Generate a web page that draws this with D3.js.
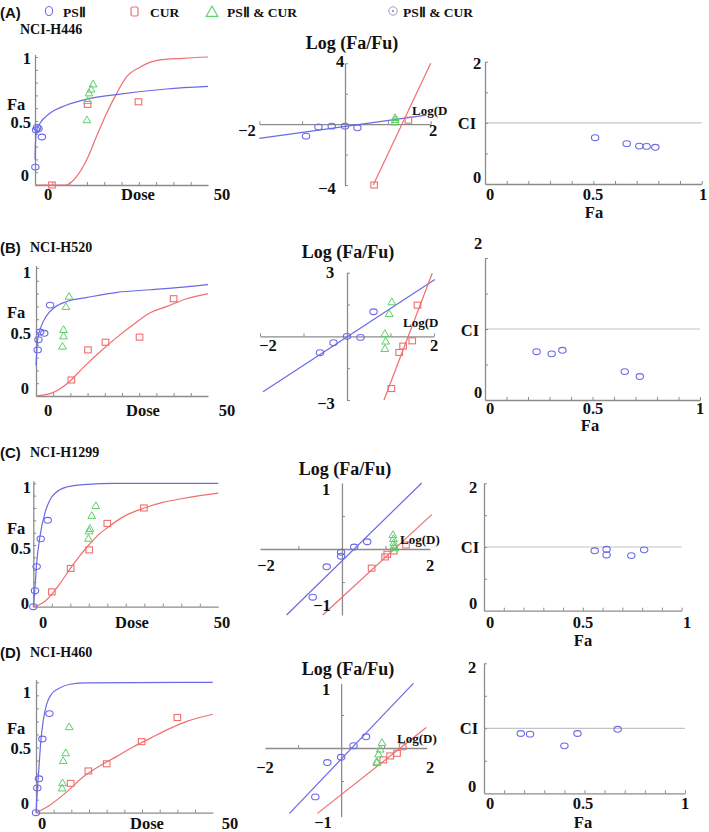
<!DOCTYPE html>
<html><head><meta charset="utf-8">
<script src="https://cdn.jsdelivr.net/npm/d3@7"></script>
<style>body{margin:0;background:#fff}svg{display:block}</style>
</head><body><svg id="c" width="709" height="832"></svg>
<script>
// ---------------- DATA ----------------
// Row A  NCI-H446
const doseA_psii  = [[0.1,0.14],[0.3,0.43],[0.6,0.45],[1.0,0.44],[2.0,0.375]];
const doseA_cur   = [[4.9,0.0],[15.2,0.63],[29.9,0.65]];
const doseA_combo = [[15.0,0.51],[15.2,0.66],[15.6,0.72],[16.2,0.75],[16.8,0.79]];
const fitA_psii   = [[0.02,0.2],[0.1,0.3],[0.5,0.43],[1.4,0.48],[4.3,0.56],[9.2,0.625],[14.9,0.67],[24.6,0.71],[38,0.75],[50,0.77]];
const fitA_cur    = [[0,0],[9,0.0],[12,0.065],[14.9,0.195],[17.8,0.38],[20.7,0.56],[23.6,0.716],[26.5,0.846],[30.3,0.92],[36.1,0.977],[42.8,0.99],[50,1.0]];
const medA_psii   = [[-0.91,-0.79],[-0.62,-0.18],[-0.31,-0.13],[0,-0.13],[0.29,-0.24]];
const medA_cur    = [[0.68,-4.0],[1.48,0.26]];
const medA_combo  = [[1.17,0.15],[1.17,0.30],[1.17,0.44]];
const lineA_psii  = [[-2,-0.94],[1.9,0.59]];
const lineA_cur   = [[0.66,-4.0],[2.0,4.0]];
const ciA         = [[0.508,0.757],[0.654,0.66],[0.712,0.62],[0.746,0.615],[0.786,0.60]];
// Row B  NCI-H520
const doseB_psii  = [[0.5,0.36],[0.7,0.44],[1.2,0.50],[2.4,0.49],[4.1,0.71]];
const doseB_cur   = [[10.3,0.125],[15.1,0.36],[20.2,0.42],[30.1,0.46],[40,0.76]];
const doseB_combo = [[9.6,0.78],[8.7,0.70],[8.0,0.52],[8.0,0.47],[7.7,0.39]];
const fitB_psii   = [[0,0.24],[0.48,0.44],[1.45,0.54],[2.9,0.62],[5.3,0.69],[9.2,0.74],[14.9,0.77],[23.6,0.81],[33.2,0.83],[42.9,0.85],[50,0.87]];
const fitB_cur    = [[0,0],[4.3,0.02],[9.2,0.1],[14,0.23],[18.8,0.35],[23.6,0.46],[28.4,0.56],[33.2,0.65],[38.1,0.70],[43.8,0.76],[50,0.80]];
const medB_psii   = [[-0.62,-0.77],[-0.31,-0.30],[0,0],[0.31,-0.05],[0.61,1.16]];
const medB_cur    = [[1.02,-2.46],[1.20,-0.76],[1.29,-0.46],[1.50,-0.21],[1.62,1.47]];
const medB_combo  = [[1.03,1.63],[0.97,1.08],[0.87,0.14],[0.89,-0.22],[0.87,-0.57]];
const lineB_psii  = [[-1.93,-2.61],[2.02,2.68]];
const lineB_cur   = [[0.85,-3.0],[1.96,2.97]];
const ciB         = [[0.24,0.68],[0.31,0.65],[0.36,0.70],[0.65,0.40],[0.72,0.33]];
// Row C  NCI-H1299
const doseC_psii  = [[0,0],[0.46,0.13],[0.9,0.325],[2.0,0.55],[3.9,0.70]];
const doseC_cur   = [[5.0,0.12],[10.1,0.31],[15.1,0.46],[20,0.675],[29.9,0.80]];
const doseC_combo = [[16.9,0.82],[15.8,0.74],[15.3,0.635],[15.1,0.615],[14.9,0.555]];
const fitC_psii   = [[0,0],[0.46,0.16],[0.9,0.35],[1.8,0.57],[3.15,0.76],[4.5,0.865],[6.3,0.93],[9,0.97],[13.5,0.99],[22.5,1.0],[50,1.0]];
const fitC_cur    = [[0,0],[2.5,0.03],[5,0.10],[7.5,0.20],[10,0.31],[12.5,0.41],[15,0.50],[17.5,0.58],[20,0.64],[25,0.74],[30,0.80],[35,0.845],[40,0.875],[45,0.90],[50,0.92]];
const medC_psii   = [[-0.67,-0.73],[-0.35,-0.27],[-0.02,-0.11],[-0.02,-0.05],[0.28,0.03],[0.58,0.11]];
const medC_cur    = [[0.68,-0.29],[0.99,-0.12],[1.04,-0.08],[1.19,-0.03],[1.47,0.06]];
const medC_combo  = [[1.17,0.22],[1.18,0.16],[1.19,0.10],[1.20,0.05],[1.21,0.02]];
const lineC_psii  = [[-1.27,-1.0],[1.83,1.0]];
const lineC_cur   = [[-0.44,-1.0],[2.06,0.52]];
const ciC         = [[0.56,0.94],[0.62,0.965],[0.62,0.875],[0.745,0.865],[0.81,0.955]];
// Row D  NCI-H460
const doseD_psii  = [[0,0],[0.37,0.19],[0.85,0.26],[1.8,0.565],[3.8,0.76]];
const doseD_cur   = [[9.8,0.225],[14.8,0.32],[20.0,0.375],[29.9,0.545],[40.0,0.73]];
const doseD_combo = [[9.4,0.66],[8.4,0.46],[7.7,0.40],[7.5,0.23],[7.4,0.19]];
const fitD_psii   = [[0,0],[0.37,0.17],[0.85,0.35],[1.3,0.53],[2.07,0.71],[3.0,0.83],[4.4,0.91],[6.3,0.95],[9.6,0.985],[14.4,0.995],[50,1.0]];
const fitD_cur    = [[0,0],[4,0.06],[8.7,0.16],[13.4,0.275],[18.1,0.36],[22.8,0.43],[27.6,0.506],[32.3,0.57],[37,0.635],[42.7,0.70],[50,0.755]];
const medD_psii   = [[-0.6,-0.74],[-0.32,-0.22],[0,-0.14],[0.29,0.035],[0.58,0.17]];
const medD_cur    = [[0.98,-0.18],[1.14,-0.12],[1.3,-0.08],[1.43,0.02]];
const medD_combo  = [[0.95,0.085],[0.91,-0.015],[0.87,-0.09],[0.83,-0.2],[0.83,-0.22]];
const lineD_psii  = [[-1.2,-0.99],[1.68,0.98]];
const lineD_cur   = [[-0.55,-0.99],[1.98,0.31]];
const ciD         = [[0.183,0.92],[0.229,0.91],[0.40,0.73],[0.465,0.92],[0.665,0.985]];

const rowTags   = ["(A)","(B)","(C)","(D)"];
const cellLines = ["NCI-H446","NCI-H520","NCI-H1299","NCI-H460"];
const legendLabels = ["PSⅡ","CUR","PSⅡ & CUR","PSⅡ & CUR"];

// ---------------- STYLE ----------------
const BLUE="#6a6ae8", RED="#f06e6e", GREEN="#5ccf6a", AXIS="#8c8c8c", REF="#c4c4c4";
const SERIF="'Liberation Serif','Times New Roman',serif";
const SANS="'Liberation Sans',Arial,sans-serif";
const TK=16.5;   // tick label size
const svg = d3.select("#c");

function txt(x,y,s,o={}){
  return svg.append("text").attr("x",x).attr("y",y).text(s)
    .attr("font-family",o.font||SERIF).attr("font-weight","bold")
    .attr("font-size",o.size||TK).attr("text-anchor",o.anchor||"middle")
    .attr("dominant-baseline","central").attr("fill",o.fill||"#111");
}
function styleAxis(g){
  g.select(".domain").attr("stroke",AXIS).attr("stroke-width",1.3);
  g.selectAll(".tick line").attr("stroke",AXIS).attr("stroke-width",1);
  g.selectAll(".tick text").remove();
}
function marks(g,x,y,data,kind,color){
  const sel = g.selectAll(null).data(data).enter();
  if(kind==="circle"){
    sel.append("ellipse").attr("cx",d=>x(d[0])).attr("cy",d=>y(d[1])).attr("rx",3.7).attr("ry",2.9)
      .attr("fill","none").attr("stroke",color).attr("stroke-width",1.1);
  } else if(kind==="square"){
    sel.append("rect").attr("x",d=>x(d[0])-3.3).attr("y",d=>y(d[1])-3).attr("width",6.6).attr("height",6)
      .attr("fill","none").attr("stroke",color).attr("stroke-width",1.1);
  } else {
    sel.append("path").attr("d",d3.symbol(d3.symbolTriangle,26)())
      .attr("transform",d=>`translate(${x(d[0])},${y(d[1])+0.8})`)
      .attr("fill","none").attr("stroke",color).attr("stroke-width",1);
  }
}
function curve(g,x,y,data,color,smooth){
  const ln = d3.line().x(d=>x(d[0])).y(d=>y(d[1]));
  if(smooth) ln.curve(d3.curveMonotoneX);
  g.append("path").attr("d",ln(data)).attr("fill","none").attr("stroke",color).attr("stroke-width",1.2);
}

// ---------- Dose-effect panels ----------
function dosePanel(L, ps, cu, co, fp, fc){
  const g = svg.append("g");
  const x = d3.scaleLinear().domain([0,50]).range(L.xr);
  const y = d3.scaleLinear().domain([0,1]).range(L.yr);
  const yAx = d3.scaleLinear().domain([0,L.ytop]).range([y(0),y(L.ytop)]);
  const gx = g.append("g").attr("transform",`translate(0,${y(0)})`)
    .call(d3.axisBottom(x).tickValues(d3.range(5,50,5)).tickSize(-3).tickSizeOuter(0));
  styleAxis(gx);
  const gy = g.append("g").attr("transform",`translate(${x(0)},0)`)
    .call(d3.axisLeft(yAx).tickValues(d3.range(1,11).map(i=>i/10)).tickSize(-3).tickSizeOuter(0));
  styleAxis(gy);
  curve(g,x,y,fc,RED,true);
  curve(g,x,y,fp,BLUE,true);
  marks(g,x,y,ps,"circle",BLUE);
  marks(g,x,y,cu,"square",RED);
  marks(g,x,y,co,"tri",GREEN);
  txt(31,L.t1,"1",{anchor:"end"});
  txt(31,L.th,"0.5",{anchor:"end"});
  txt(29,L.t0,"0",{anchor:"end"});
  txt(7,L.fa,"Fa",{anchor:"start"});
  txt(L.x0,L.xy,"0");
  txt(L.xd,L.xy,"Dose");
  txt(L.x50,L.xy,"50");
}
// ---------- Median-effect panels ----------
function medPanel(L, ps, cu, co, lp, lc){
  const g = svg.append("g");
  const x = d3.scaleLinear().domain(L.xd).range(L.xr);
  const y = d3.scaleLinear().domain(L.yd).range(L.yr);
  const gx = g.append("g").attr("transform",`translate(0,${y(0)})`)
    .call(d3.axisBottom(x).tickValues(L.xt).tickSize(-3).tickSizeOuter(0));
  styleAxis(gx);
  const gy = g.append("g").attr("transform",`translate(${x(0)},0)`)
    .call(d3.axisLeft(y).tickValues(L.yt).tickSize(-3).tickSizeOuter(0));
  styleAxis(gy);
  curve(g,x,y,lp,BLUE,false);
  curve(g,x,y,lc,RED,false);
  marks(g,x,y,ps,"circle",BLUE);
  marks(g,x,y,cu,"square",RED);
  marks(g,x,y,co,"tri",GREEN);
  txt(L.title[0],L.title[1],"Log (Fa/Fu)",{size:18});
  txt(L.top[0],L.top[1],L.topS);
  txt(L.bot[0],L.bot[1],L.botS);
  txt(L.m2[0],L.m2[1],"−2");
  txt(L.p2[0],L.p2[1],"2");
  txt(L.ld[0],L.ld[1],L.ldS,{anchor:"start",size:13});
}
// ---------- CI panels ----------
function ciPanel(L, pts){
  const g = svg.append("g");
  const x = d3.scaleLinear().domain([0,1]).range(L.xr);
  const y = d3.scaleLinear().domain([0,2]).range(L.yr);
  g.append("line").attr("x1",x(0)).attr("x2",x(1)).attr("y1",y(1)).attr("y2",y(1))
    .attr("stroke",REF).attr("stroke-width",1.2);
  const gx = g.append("g").attr("transform",`translate(0,${y(0)})`)
    .call(d3.axisBottom(x).tickValues(d3.range(1,11).map(i=>i/10)).tickSize(-3).tickSizeOuter(0));
  styleAxis(gx);
  const gy = g.append("g").attr("transform",`translate(${x(0)},0)`)
    .call(d3.axisLeft(y).tickValues([0.5,1,1.5,2]).tickSize(-3).tickSizeOuter(0));
  styleAxis(gy);
  marks(g,x,y,pts,"circle",BLUE);
  txt(L.lx,L.l2,"2");
  txt(L.cix,L.l1,"CI");
  txt(L.lx,L.l0,"0");
  txt(L.b0,L.by,"0");
  txt(L.bh,L.by,"0.5");
  txt(L.b1,L.by,"1");
  txt(L.fax,L.fay,"Fa");
}

// ---------------- LAYOUT ----------------
dosePanel({xr:[35,208],yr:[185,57],ytop:1.02,t1:58,th:122,t0:175,fa:104,xy:194,x0:48,xd:138,x50:222},
  doseA_psii,doseA_cur,doseA_combo,fitA_psii,fitA_cur);
dosePanel({xr:[36,208],yr:[396,268],ytop:1.02,t1:272,th:333,t0:388,fa:312,xy:410,x0:48,xd:143,x50:227},
  doseB_psii,doseB_cur,doseB_combo,fitB_psii,fitB_cur);
dosePanel({xr:[33.3,218.3],yr:[606.7,483.3],ytop:1.02,t1:487,th:548,t0:603,fa:528,xy:622,x0:43,xd:132,x50:222},
  doseC_psii,doseC_cur,doseC_combo,fitC_psii,fitC_cur);
dosePanel({xr:[36,212.7],yr:[812.7,682.3],ytop:1.02,t1:692,th:748,t0:803,fa:728,xy:823,x0:42,xd:147,x50:230},
  doseD_psii,doseD_cur,doseD_combo,fitD_psii,fitD_cur);

medPanel({xd:[-2,2],xr:[259.3,430.7],yd:[-4,4],yr:[185,63.3],xt:[-2,-1,1,2],yt:[-4,-2,2,4],
  title:[352,43],top:[340,61],topS:"4",bot:[327,188],botS:"−4",m2:[247,130],p2:[433,130],ld:[412,110],ldS:"Log(D"},
  medA_psii,medA_cur,medA_combo,lineA_psii,lineA_cur);
medPanel({xd:[-2,2],xr:[260,434],yd:[-3,3],yr:[400,272.7],xt:[-2,-1,1,2],yt:[-3,-1.5,1.5,3],
  title:[348,252],top:[330,272],topS:"3",bot:[326,403],botS:"−3",m2:[268,345],p2:[434,345],ld:[403,322],ldS:"Log(D"},
  medB_psii,medB_cur,medB_combo,lineB_psii,lineB_cur);
medPanel({xd:[-1.88,2.02],xr:[260,430],yd:[-1,1],yr:[615,483],xt:[-1,1],yt:[-0.5,0.5],
  title:[345,469],top:[326,489],topS:"1",bot:[322,605],botS:"−1",m2:[266,565],p2:[430,565],ld:[400,539],ldS:"Log(D)"},
  medC_psii,medC_cur,medC_combo,lineC_psii,lineC_cur);
medPanel({xd:[-1.77,1.99],xr:[265,426.7],yd:[-1.04,0.98],yr:[816.7,683.3],xt:[-1,1],yt:[-0.5,0.5],
  title:[348,669],top:[326,689],topS:"1",bot:[323,822],botS:"−1",m2:[265,767],p2:[430,767],ld:[397,738],ldS:"Log(D)"},
  medD_psii,medD_cur,medD_combo,lineD_psii,lineD_cur);

ciPanel({xr:[485,701.7],yr:[184,61.7],lx:477,l2:63,cix:467,l1:123,l0:177,b0:490,bh:593,b1:703,by:194,fax:594,fay:212},ciA);
ciPanel({xr:[485,700],yr:[400,258],lx:478,l2:243,cix:470,l1:330,l0:392,b0:490,bh:593,b1:700,by:408,fax:590,fay:425},ciB);
ciPanel({xr:[484,681.7],yr:[610.7,483.3],lx:473,l2:487,cix:470,l1:547,l0:603,b0:490,bh:583,b1:687,by:622,fax:583,fay:640},ciC);
ciPanel({xr:[484,685],yr:[793.3,663.3],lx:472,l2:667,cix:469,l1:728,l0:786,b0:490,bh:583,b1:685,by:803,fax:583,fay:822},ciD);

// ---------------- ROW LABELS ----------------
const tagY = [12,247,452,652], nameY=[29,247,452,652], nameX=[20,30,30,30];
rowTags.forEach((t,i)=>txt(0,tagY[i],t,{anchor:"start",font:SANS,size:15}));
cellLines.forEach((t,i)=>txt(nameX[i],nameY[i],t,{anchor:"start",size:14}));

// ---------------- LEGEND ----------------
svg.append("ellipse").attr("cx",49).attr("cy",11).attr("rx",3.6).attr("ry",4.5)
  .attr("fill","none").attr("stroke",BLUE).attr("stroke-width",1.1);
svg.append("rect").attr("x",131).attr("y",7).attr("width",7).attr("height",9).attr("rx",1.5)
  .attr("fill","none").attr("stroke",RED).attr("stroke-width",1.2);
svg.append("path").attr("d",d3.symbol(d3.symbolTriangle,60)()).attr("transform","translate(212,13)")
  .attr("fill","none").attr("stroke",GREEN).attr("stroke-width",1.1);
svg.append("circle").attr("cx",393).attr("cy",11).attr("r",4.2)
  .attr("fill","none").attr("stroke","#9aa0c8").attr("stroke-width",1);
svg.append("circle").attr("cx",393).attr("cy",11).attr("r",0.9).attr("fill","#6a70a8");
const legX=[63,150,227,403];
legendLabels.forEach((t,i)=>txt(legX[i],12,t,{anchor:"start",size:13.5}));
</script>
</body></html>
